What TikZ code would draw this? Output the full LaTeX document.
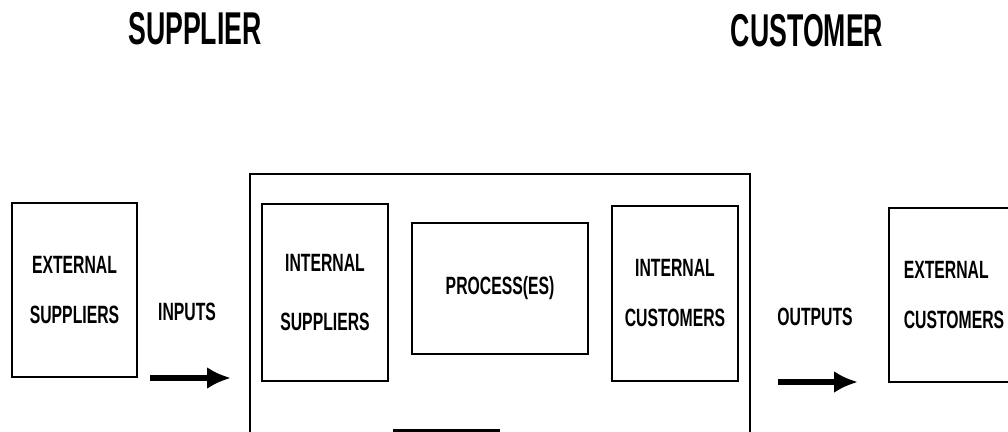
\documentclass[tikz,border=0pt]{standalone}
\usepackage{fontspec}
\usetikzlibrary{arrows.meta}

\newfontfamily\boxfont{Liberation Sans}[FakeStretch=0.63]
\newfontfamily\titlefont{Liberation Sans}[FakeStretch=0.58]

\begin{document}
\begin{tikzpicture}[x = 1pt, y = -1pt,
	unit/.style = {draw, line width = 2pt, inner sep = 0pt, align = center,
		font = \boxfont\bfseries\fontsize{25}{50}\selectfont},
	title/.style = {font = \titlefont\bfseries\fontsize{46}{50}\selectfont},
	flowlabel/.style = {font = \boxfont\bfseries\fontsize{25}{30}\selectfont},
	flow/.style = {-{Latex[length = 24pt, width = 22pt]}, line width = 6pt}]

	% Definitions
	
	\def\W{1008}	% Picture width
	\def\H{431}		% Picture height
	
	\useasboundingbox (0, 0) rectangle (\W, \H);
	\clip (0, 0) rectangle (\W, \H);
	
	% Titles
	
	\node [title] (supplier) at (195, 29) {SUPPLIER};
	\node [title] (customer) at (807, 31) {CUSTOMER};
	
	% Organisation boundary
	
	\draw [line width = 2pt] (250, 445) -- (250, 174) -- (750, 174) -- (750, 445);
	\draw [line width = 3pt] (393, 430) -- (500, 430);
	
	% Units
	
	\node [unit, minimum width = 125pt, minimum height = 174pt] (extsup) at (74.5, 290) {EXTERNAL\\SUPPLIERS};
	\node [unit, minimum width = 126pt, minimum height = 177pt, font = \boxfont\bfseries\fontsize{25}{59}\selectfont] (intsup) at (325, 292.5) {INTERNAL\\SUPPLIERS};
	\node [unit, minimum width = 176pt, minimum height = 131pt] (proc) at (500, 288.5) {PROCESS(ES)};
	\node [unit, minimum width = 126pt, minimum height = 175pt] (intcus) at (675, 293.5) {INTERNAL\\CUSTOMERS};
	\node [unit, minimum width = 130pt, minimum height = 174pt, align = left] (extcus) at (954, 295) {EXTERNAL\\CUSTOMERS};
	
	% Inputs
	
	\node [flowlabel] (inputs) at (187, 312) {INPUTS};
	\coordinate (in0) at (150, 378);
	\coordinate (in1) at (231, 378);
	\draw [flow] (in0) -- (in1);
	
	% Outputs
	
	\node [flowlabel] (outputs) at (815, 317) {OUTPUTS};
	\coordinate (out0) at (778, 382);
	\coordinate (out1) at (858, 382);
	\draw [flow] (out0) -- (out1);

\end{tikzpicture}
\end{document}
